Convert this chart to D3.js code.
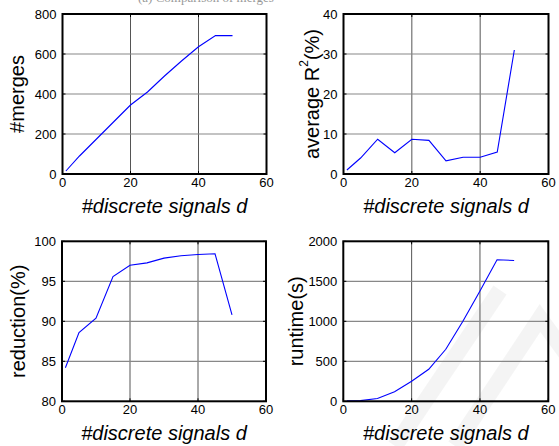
<!DOCTYPE html>
<html>
<head>
<meta charset="utf-8">
<script src="https://cdn.jsdelivr.net/npm/d3@7"></script>
<style>
  body { margin: 0; background: #fff; }
  svg { display: block; font-family: Arial, "Liberation Sans", sans-serif; }
</style>
</head>
<body>
<div id="chart"></div>
<script>
// number of discrete signals d
const signals = [1, 5, 10, 15, 20, 25, 30, 35, 40, 45, 50];

const merges = [15, 90, 175, 260, 345, 410, 490, 565, 636, 692, 692];
const avgR2 = [1.0, 4.0, 8.7, 5.3, 8.7, 8.4, 3.3, 4.2, 4.2, 5.5, 31.0];
const reduction = [84.2, 88.6, 90.4, 95.6, 97.0, 97.3, 97.9, 98.2, 98.35, 98.45, 90.8];
const runtime = [5, 8, 35, 120, 250, 400, 650, 1000, 1380, 1770, 1760];

const xTicks = [0, 20, 40, 60];
const mergesTicks = [0, 200, 400, 600, 800];
const r2Ticks = [0, 10, 20, 30, 40];
const reductionTicks = [80, 85, 90, 95, 100];
const runtimeTicks = [0, 500, 1000, 1500, 2000];

const W = 559, H = 446;

const svg = d3.select('#chart')
    .append('svg')
    .attr('width', W)
    .attr('height', H);

// faint watermark in the lower right corner
const wm = svg.append('g')
    .attr('fill', 'none')
    .attr('stroke', '#000')
    .attr('stroke-opacity', 0.045)
    .attr('stroke-width', 16);
wm.append('path').attr('d', 'M455,446 L540,318 L600,400');
wm.append('path').attr('d', 'M395,446 L500,290');

// cut-off caption at the very top
svg.append('text')
    .attr('x', 138)
    .attr('y', 2)
    .attr('font-family', 'Times New Roman, Liberation Serif, serif')
    .attr('font-size', 13)
    .attr('fill', '#999')
    .text('(a) Comparison of merges');

const panels = [
    { left: 62.5, right: 266.5, top: 14, bottom: 174, values: merges, domain: [0, 800], ticks: mergesTicks, label: '#merges', labelX: 17 },
    { left: 343.5, right: 548.5, top: 14, bottom: 174, values: avgR2, domain: [0, 40], ticks: r2Ticks, label: 'r2', labelX: 312 },
    { left: 62, right: 266, top: 241.3, bottom: 401.3, values: reduction, domain: [80, 100], ticks: reductionTicks, label: 'reduction(%)', labelX: 18 },
    { left: 343.3, right: 548.3, top: 241.3, bottom: 401.3, values: runtime, domain: [0, 2000], ticks: runtimeTicks, label: 'runtime(s)', labelX: 296 }
];

panels.forEach(p => {
    const x = d3.scaleLinear().domain([0, 60]).range([p.left, p.right]);
    const y = d3.scaleLinear().domain(p.domain).range([p.bottom, p.top]);
    const g = svg.append('g');

    // grid
    g.append('g').selectAll('line')
        .data(xTicks.slice(1, -1))
        .join('line')
        .attr('x1', d => x(d)).attr('x2', d => x(d))
        .attr('y1', p.top).attr('y2', p.bottom)
        .attr('stroke', '#555').attr('stroke-width', 1);
    g.append('g').selectAll('line')
        .data(p.ticks.slice(1, -1))
        .join('line')
        .attr('x1', p.left).attr('x2', p.right)
        .attr('y1', d => y(d)).attr('y2', d => y(d))
        .attr('stroke', '#888').attr('stroke-width', 1.2);

    // inward ticks on all four sides
    const tl = 3;
    const tickG = g.append('g').attr('stroke', '#000').attr('stroke-width', 1);
    xTicks.forEach(t => {
        tickG.append('line').attr('x1', x(t)).attr('x2', x(t)).attr('y1', p.bottom).attr('y2', p.bottom - tl);
        tickG.append('line').attr('x1', x(t)).attr('x2', x(t)).attr('y1', p.top).attr('y2', p.top + tl);
    });
    p.ticks.forEach(t => {
        tickG.append('line').attr('x1', p.left).attr('x2', p.left + tl).attr('y1', y(t)).attr('y2', y(t));
        tickG.append('line').attr('x1', p.right).attr('x2', p.right - tl).attr('y1', y(t)).attr('y2', y(t));
    });

    // data line
    g.append('path')
        .datum(p.values)
        .attr('fill', 'none')
        .attr('stroke', '#0000ff')
        .attr('stroke-width', 1.1)
        .attr('d', d3.line().x((d, i) => x(signals[i])).y(d => y(d)));

    // box
    g.append('rect')
        .attr('x', p.left).attr('y', p.top)
        .attr('width', p.right - p.left).attr('height', p.bottom - p.top)
        .attr('fill', 'none').attr('stroke', '#000').attr('stroke-width', 2);

    // tick labels
    g.append('g').selectAll('text')
        .data(xTicks)
        .join('text')
        .attr('x', d => x(d))
        .attr('y', p.bottom + 13)
        .attr('text-anchor', 'middle')
        .attr('font-size', 13)
        .text(d => d);
    g.append('g').selectAll('text')
        .data(p.ticks)
        .join('text')
        .attr('x', p.left - 6)
        .attr('y', d => y(d) + 4.5)
        .attr('text-anchor', 'end')
        .attr('font-size', 13)
        .text(d => d);

    // x label
    g.append('text')
        .attr('x', (p.left + p.right) / 2)
        .attr('y', p.bottom + 39)
        .attr('text-anchor', 'middle')
        .attr('font-size', 20)
        .attr('font-style', 'italic')
        .text('#discrete signals d');

    // y label
    const yl = g.append('text')
        .attr('transform', `translate(${p.labelX},${(p.top + p.bottom) / 2}) rotate(-90)`)
        .attr('text-anchor', 'middle')
        .attr('dominant-baseline', 'central')
        .attr('font-size', 20);
    if (p.label === 'r2') {
        yl.append('tspan').text('average R');
        yl.append('tspan').attr('font-size', 12).attr('dy', -8).text('2');
        yl.append('tspan').attr('dy', 8).text('(%)');
    } else {
        yl.text(p.label);
    }
});
</script>
</body>
</html>
